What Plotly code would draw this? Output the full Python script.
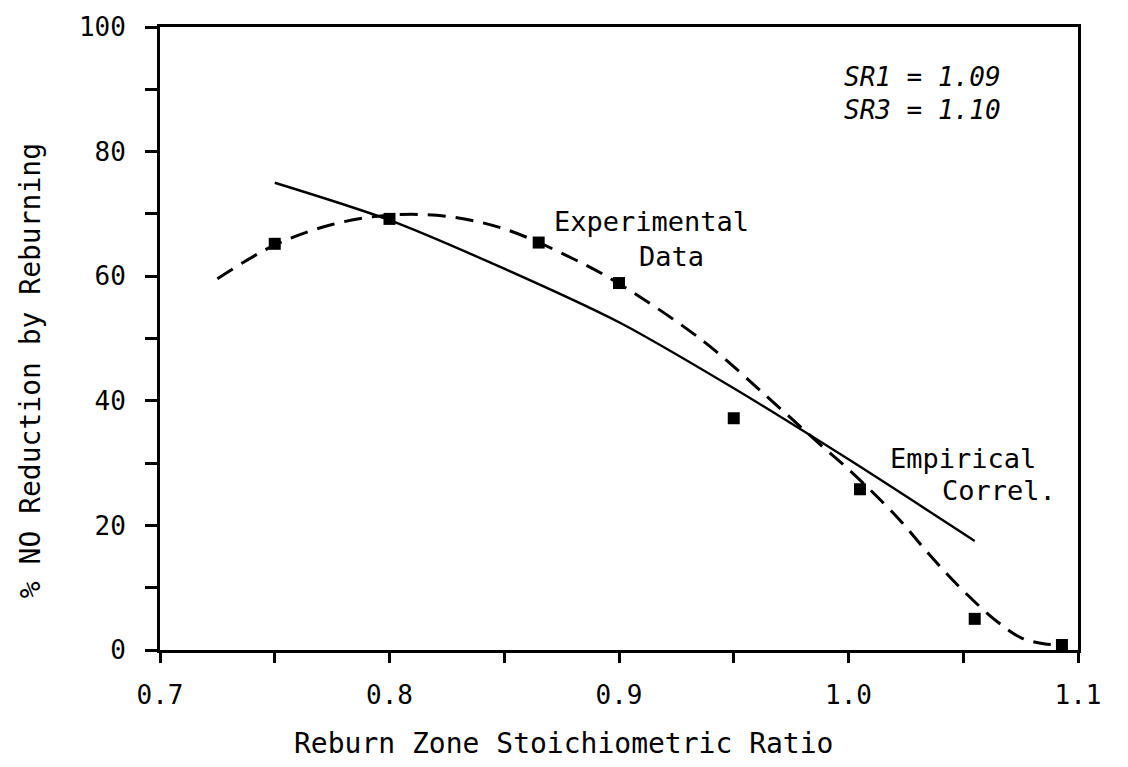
import plotly.graph_objects as go

# Experimental data points (squares)
exp_x = [0.75, 0.80, 0.865, 0.90, 0.95, 1.005, 1.055, 1.093]
exp_y = [65.2, 69.2, 65.4, 58.9, 37.2, 25.8, 5.0, 0.8]

# Dashed curve through experimental data
fit_x = [0.725, 0.75, 0.775, 0.80, 0.825, 0.85, 0.88, 0.90, 0.937, 0.965,
         0.987, 1.0, 1.021, 1.036, 1.05, 1.065, 1.075, 1.085, 1.095]
fit_y = [59.6, 65.0, 68.3, 69.8, 69.6, 67.6, 62.8, 58.8, 49.5, 40.5,
         33.2, 29.0, 21.4, 15.0, 9.5, 4.5, 2.0, 1.0, 0.8]

# Empirical correlation (solid line)
emp_x = [0.75, 0.80, 0.85, 0.90, 0.95, 1.00, 1.055]
emp_y = [75.0, 69.0, 61.2, 52.6, 42.0, 30.6, 17.5]

x_ticks = [0.7, 0.8, 0.9, 1.0, 1.1]
y_ticks = [0, 20, 40, 60, 80, 100]

FONT = "DejaVu Sans Mono"

fig = go.Figure()
fig.add_trace(go.Scatter(x=emp_x, y=emp_y, mode="lines", line_shape="spline",
                         line=dict(color="black", width=2.4, smoothing=0.8),
                         showlegend=False))
fig.add_trace(go.Scatter(x=fit_x, y=fit_y, mode="lines", line_shape="spline",
                         line=dict(color="black", width=3, dash="18px,10px"),
                         showlegend=False))
fig.add_trace(go.Scatter(x=exp_x, y=exp_y, mode="markers",
                         marker=dict(symbol="square", size=12, color="black"),
                         showlegend=False))

txt = dict(family=FONT, size=27, color="black")
fig.add_annotation(x=0.914, y=68.8, text="Experimental", showarrow=False, font=txt)
fig.add_annotation(x=0.923, y=63.2, text="Data", showarrow=False, font=txt)
fig.add_annotation(x=1.050, y=30.8, text="Empirical", showarrow=False, font=txt)
fig.add_annotation(x=1.0656, y=25.6, text="Correl.", showarrow=False, font=txt)
fig.add_annotation(x=0.997, y=92.0, text="<i>SR1 = 1.09</i>", showarrow=False,
                   xanchor="left", font=dict(family=FONT, size=26, color="black"))
fig.add_annotation(x=0.997, y=86.6, text="<i>SR3 = 1.10</i>", showarrow=False,
                   xanchor="left", font=dict(family=FONT, size=26, color="black"))

# Axis titles
fig.add_annotation(xref="paper", yref="paper", x=0.440, y=-0.1508,
                   xanchor="center", yanchor="middle",
                   text="Reburn Zone Stoichiometric Ratio", showarrow=False,
                   font=dict(family=FONT, size=28, color="black"))
fig.add_annotation(xref="paper", yref="paper", x=-0.1416, y=0.4476,
                   xanchor="center", yanchor="middle",
                   text="% NO Reduction by Reburning", showarrow=False, textangle=-90,
                   font=dict(family=FONT, size=28, color="black"))

fig.update_xaxes(range=[0.7, 1.1], tickvals=x_ticks, ticktext=[f"{v:.1f}" for v in x_ticks],
                 showgrid=False, zeroline=False, showline=True, mirror=True,
                 linecolor="black", linewidth=2.8, ticks="outside", ticklen=10,
                 tickwidth=2.5, tickcolor="black", ticklabelstandoff=10,
                 minor=dict(dtick=0.05, tick0=0.75, ticks="outside", ticklen=10,
                            tickwidth=2.5, tickcolor="black", showgrid=False),
                 tickfont=dict(family=FONT, size=26, color="black"))
fig.update_yaxes(range=[0, 100], tickvals=y_ticks,
                 showgrid=False, zeroline=False, showline=True, mirror=True,
                 linecolor="black", linewidth=2.8, ticks="outside", ticklen=12,
                 tickwidth=2.5, tickcolor="black", ticklabelstandoff=14,
                 minor=dict(dtick=10, tick0=10, ticks="outside", ticklen=12,
                            tickwidth=2.5, tickcolor="black", showgrid=False),
                 tickfont=dict(family=FONT, size=26, color="black"))

fig.update_layout(width=1128, height=767, plot_bgcolor="white", paper_bgcolor="white",
                  margin=dict(l=160, r=50, t=20, b=117))

fig.write_html("out.html")
